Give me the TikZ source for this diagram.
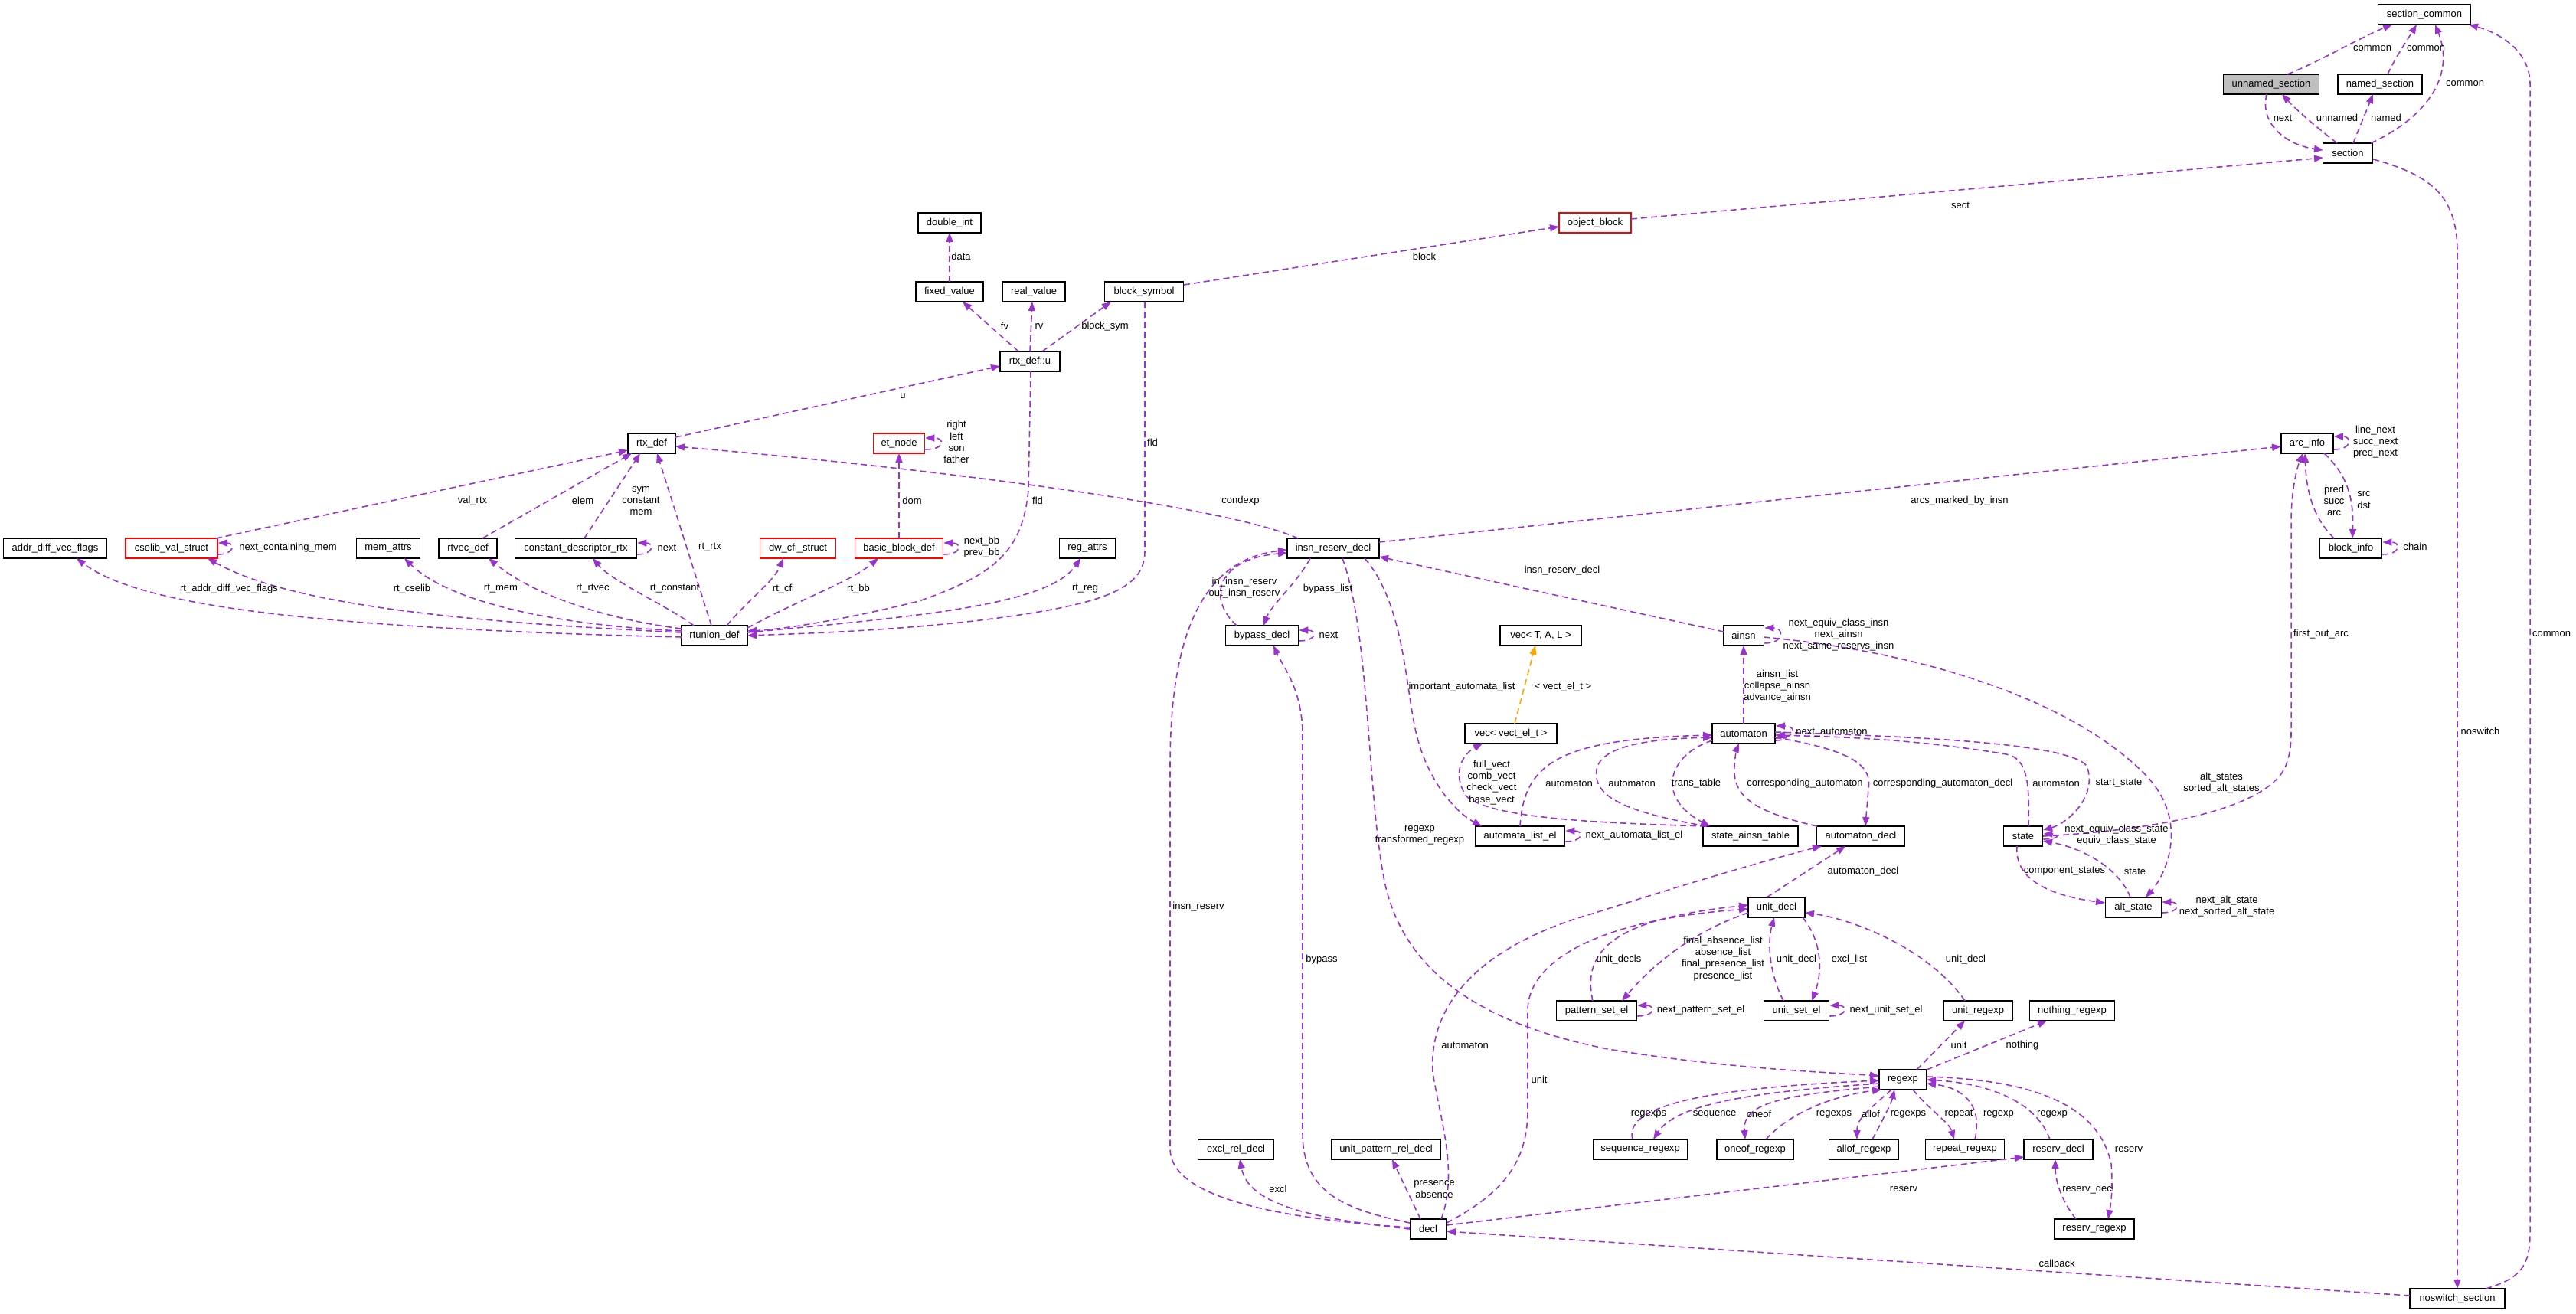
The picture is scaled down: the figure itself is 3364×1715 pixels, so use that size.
\documentclass[tikz,border=0pt]{standalone}
\usepackage{fontspec}
\usetikzlibrary{arrows.meta,calc}
\newfontfamily\lbf{Liberation Sans}
\newcommand\lbfont{\lbf\fontsize{3.7}{4.3}\selectfont}
\definecolor{edgec}{RGB}{154,50,205}
\definecolor{tmplc}{RGB}{255,165,0}
\definecolor{grayfill}{RGB}{191,191,191}
\tikzset{
 box/.style={draw=black, line width=0.45pt, fill=white, inner xsep=0.04cm, inner ysep=0pt, minimum height=0.255cm, font=\lbfont},
 redbox/.style={box, draw=red},
 lbl/.style={inner sep=0pt, font=\lbfont, align=center},
 e/.style={draw=edgec, line width=0.45pt, dash pattern=on 0.08cm off 0.05cm, -{Triangle[length=0.12cm,width=0.09cm]}},
 eo/.style={e, draw=tmplc},
}
\begin{document}
\begin{tikzpicture}[x=0.01cm,y=-0.01cm]
\useasboundingbox (0,0) rectangle (3364,1715);
% ---------------- nodes ----------------
\node[box, minimum width=1.21cm] (seccommon) at (3166,19) {section\_common};
\node[box, fill=grayfill, minimum width=1.25cm] (unnamed) at (2966,110) {unnamed\_section};
\node[box, minimum width=1.10cm] (named) at (3108,110) {named\_section};
\node[box, minimum width=0.65cm] (section) at (3066,200) {section};
\node[redbox, minimum width=0.94cm] (objblock) at (2083,291) {object\_block};
\node[box, minimum width=0.82cm] (doubleint) at (1240,291) {double\_int};
\node[box, minimum width=0.88cm] (fixedv) at (1240,381) {fixed\_value};
\node[box, minimum width=0.82cm] (realv) at (1350,381) {real\_value};
\node[box, minimum width=1.03cm] (blocksym) at (1494,381) {block\_symbol};
\node[box, minimum width=0.78cm] (rtxu) at (1345,472) {rtx\_def::u};
\node[box, minimum width=0.62cm] (rtx) at (851,579) {rtx\_def};
\node[redbox, minimum width=0.67cm] (etnode) at (1174,579) {et\_node};
\node[box, minimum width=0.68cm] (arcinfo) at (3013,579) {arc\_info};
\node[box, minimum width=1.35cm] (addr) at (72,716) {addr\_diff\_vec\_flags};
\node[redbox, minimum width=1.20cm] (cselib) at (224,716) {cselib\_val\_struct};
\node[box, minimum width=0.83cm] (memattrs) at (507,716) {mem\_attrs};
\node[box, minimum width=0.76cm] (rtvec) at (611,716) {rtvec\_def};
\node[box, minimum width=1.59cm] (constdesc) at (752,716) {constant\_descriptor\_rtx};
\node[redbox, minimum width=0.99cm] (dwcfi) at (1042,716) {dw\_cfi\_struct};
\node[redbox, minimum width=1.15cm] (bbdef) at (1174,716) {basic\_block\_def};
\node[box, minimum width=0.73cm] (regattrs) at (1420,716) {reg\_attrs};
\node[box, minimum width=1.20cm] (insnrd) at (1741,716) {insn\_reserv\_decl};
\node[box, minimum width=0.81cm] (blockinfo) at (3070,716) {block\_info};
\node[box, minimum width=0.86cm] (rtunion) at (933,830) {rtunion\_def};
\node[box, minimum width=0.95cm] (bypass) at (1648,830) {bypass\_decl};
\node[box, minimum width=1.06cm] (vecTAL) at (2012,830) {vec< T, A, L >};
\node[box, minimum width=0.53cm] (ainsn) at (2277,830) {ainsn};
\node[box, minimum width=1.20cm] (vecvect) at (1973,958) {vec< vect\_el\_t >};
\node[box, minimum width=0.82cm] (automaton) at (2277,958) {automaton};
\node[box, minimum width=1.17cm] (automlist) at (1985,1092) {automata\_list\_el};
\node[box, minimum width=1.24cm] (sat) at (2286,1092) {state\_ainsn\_table};
\node[box, minimum width=1.15cm] (automdecl) at (2430,1092) {automaton\_decl};
\node[box, minimum width=0.51cm] (state) at (2642,1092) {state};
\node[box, minimum width=0.74cm] (unitdecl) at (2320,1185) {unit\_decl};
\node[box, minimum width=0.73cm] (altstate) at (2786,1185) {alt\_state};
\node[box, minimum width=1.05cm] (pse) at (2085,1320) {pattern\_set\_el};
\node[box, minimum width=0.85cm] (use) at (2346,1320) {unit\_set\_el};
\node[box, minimum width=0.90cm] (unitregexp) at (2583,1320) {unit\_regexp};
\node[box, minimum width=1.11cm] (nothing) at (2706,1320) {nothing\_regexp};
\node[box, minimum width=0.62cm] (regexp) at (2485,1410) {regexp};
\node[box, minimum width=0.99cm] (exclrel) at (1614,1501) {excl\_rel\_decl};
\node[box, minimum width=1.43cm] (uprd) at (1810,1501) {unit\_pattern\_rel\_decl};
\node[box, minimum width=1.23cm] (seqre) at (2142,1501) {sequence\_regexp};
\node[box, minimum width=1.00cm] (oneof) at (2292,1501) {oneof\_regexp};
\node[box, minimum width=0.91cm] (allof) at (2434,1501) {allof\_regexp};
\node[box, minimum width=1.03cm] (repeatre) at (2566,1501) {repeat\_regexp};
\node[box, minimum width=0.90cm] (reservdecl) at (2688,1501) {reserv\_decl};
\node[box, minimum width=0.47cm] (decl) at (1865,1605) {decl};
\node[box, minimum width=1.04cm] (reservre) at (2735,1605) {reserv\_regexp};
\node[box, minimum width=1.24cm] (noswitch) at (3209,1696) {noswitch\_section};
% ---------------- edges: top right ----------------
\draw[e] ($(unnamed)+(21,-13)$) .. controls (3030,80) and (3080,50) .. ($(seccommon)+(-42,13)$);
\draw[e] ($(named)+(10,-13)$) .. controls (3128,75) and (3145,50) .. ($(seccommon)+(-10,13)$);
\draw[e] ($(section)+(30,-13)$) .. controls (3175,150) and (3205,95) .. ($(seccommon)+(14,13)$);
\draw[e] ($(unnamed)+(-6,13)$) .. controls (2950,165) and (2990,190) .. ($(section)+(-32,-4)$);
\draw[e] ($(section)+(-14,-13)$) .. controls (3030,170) and (3000,145) .. ($(unnamed)+(14,13)$);
\draw[e] ($(section)+(7,-13)$) -- ($(named)+(-9,13)$);
\draw[e] ($(objblock)+(47,-5)$) -- ($(section)+(-32,6)$);
\draw[e] ($(section)+(33,8)$) .. controls (3180,230) and (3209,260) .. (3209,330) -- ($(noswitch)+(0,-13)$);
\draw[e] ($(noswitch)+(37,-13)$) .. controls (3290,1670) and (3304,1655) .. (3304,1610) -- (3304,110) .. controls (3304,70) and (3270,45) .. ($(seccommon)+(58,13)$);
\draw[e] ($(noswitch)+(-62,-4)$) -- ($(decl)+(24,3)$);
% ---------------- upper middle ----------------
\draw[e] ($(fixedv)+(0,-13)$) -- ($(doubleint)+(0,13)$);
\draw[e] ($(rtxu)+(-15,-13)$) -- ($(fixedv)+(17,13)$);
\draw[e] ($(rtxu)+(0,-13)$) -- ($(realv)+(-2,13)$);
\draw[e] ($(rtxu)+(16,-13)$) -- ($(blocksym)+(-43,13)$);
\draw[e] ($(blocksym)+(52,-9)$) -- ($(objblock)+(-47,5)$);
\draw[e] ($(rtx)+(31,-8)$) -- ($(rtxu)+(-39,6)$);
\draw[e] ($(rtxu)+(1,13)$) -- (1343,640) .. controls (1335,720) and (1300,750) .. (1200,785) .. controls (1100,810) and (1020,822) .. ($(rtunion)+(43,-6)$);
\draw[e] ($(blocksym)+(1,13)$) -- (1495,720) .. controls (1495,770) and (1440,790) .. (1280,810) .. controls (1150,825) and (1030,828) .. ($(rtunion)+(43,0)$);
% ---------------- rtx area ----------------
\draw[e] ($(etnode.east)+(0,8)$) .. controls +(26,0) and +(26,0) .. ($(etnode.east)+(0,-7)$);
\draw[e] ($(bbdef)+(0,-13)$) -- ($(etnode)+(0,13)$);
\draw[e] ($(bbdef.east)+(0,8)$) .. controls +(24,0) and +(24,0) .. ($(bbdef.east)+(0,-7)$);
\draw[e] ($(insnrd)+(-46,-13)$) .. controls (1600,660) and (1200,610) .. ($(rtx)+(31,4)$);
\draw[e] ($(cselib)+(58,-13)$) -- ($(rtx)+(-31,9)$);
\draw[e] ($(rtvec)+(19,-13)$) -- ($(rtx)+(-26,13)$);
\draw[e] ($(constdesc)+(11,-13)$) -- ($(rtx)+(-15,13)$);
\draw[e] ($(rtunion)+(-4,-13)$) -- ($(rtx)+(7,13)$);
\draw[e] ($(cselib.east)+(0,8)$) .. controls +(22,0) and +(22,0) .. ($(cselib.east)+(0,-7)$);
\draw[e] ($(constdesc.east)+(0,8)$) .. controls +(22,0) and +(22,0) .. ($(constdesc.east)+(0,-7)$);
\draw[e] ($(rtunion)+(-43,2)$) .. controls (400,820) and (180,790) .. ($(addr)+(28,13)$);
\draw[e] ($(rtunion)+(-43,-4)$) .. controls (600,812) and (380,790) .. ($(cselib)+(47,13)$);
\draw[e] ($(rtunion)+(-43,-6)$) .. controls (700,815) and (580,780) .. ($(memattrs)+(21,13)$);
\draw[e] ($(rtunion)+(-43,-9)$) .. controls (800,810) and (700,780) .. ($(rtvec)+(27,13)$);
\draw[e] ($(rtunion)+(-27,-13)$) .. controls (870,790) and (800,760) .. ($(constdesc)+(22,13)$);
\draw[e] ($(rtunion)+(16,-13)$) .. controls (980,780) and (1010,760) .. ($(dwcfi)+(-19,13)$);
\draw[e] ($(rtunion)+(43,-10)$) .. controls (1050,780) and (1110,760) .. ($(bbdef)+(-27,13)$);
\draw[e] ($(rtunion)+(43,-4)$) .. controls (1200,805) and (1370,790) .. ($(regattrs)+(-9,13)$);
% ---------------- insn_reserv_decl area ----------------
\draw[e] ($(insnrd)+(60,-8)$) -- ($(arcinfo)+(-34,4)$);
\draw[e] ($(bypass)+(-33,-13)$) .. controls (1575,780) and (1590,730) .. ($(insnrd)+(-60,6)$);
\draw[e] ($(insnrd)+(-30,13)$) .. controls (1695,760) and (1660,790) .. ($(bypass)+(2,-13)$);
\draw[e] ($(bypass.east)+(0,7)$) .. controls +(24,0) and +(24,0) .. ($(bypass.east)+(0,-7)$);
\draw[e] ($(ainsn)+(-26,-5)$) -- ($(insnrd)+(60,11)$);
\draw[e] ($(insnrd)+(41,13)$) .. controls (1835,790) and (1835,900) .. (1850,960) .. controls (1865,1020) and (1900,1060) .. ($(automlist)+(-50,-13)$);
\draw[e] ($(insnrd)+(12,13)$) .. controls (1790,830) and (1785,1050) .. (1810,1160) .. controls (1840,1280) and (1950,1340) .. (2100,1370) .. controls (2250,1395) and (2380,1400) .. ($(regexp)+(-31,-5)$);
\draw[e] ($(decl)+(-24,-2)$) .. controls (1650,1590) and (1528,1560) .. (1528,1500) -- (1528,1000) .. controls (1528,810) and (1580,730) .. ($(insnrd)+(-60,2)$);
\draw[e] ($(decl)+(-24,-8)$) .. controls (1760,1580) and (1701,1560) .. (1701,1480) -- (1701,960) .. controls (1701,900) and (1675,870) .. ($(bypass)+(15,13)$);
% ---------------- automaton area ----------------
\draw[eo] ($(vecvect)+(5,-13)$) -- ($(vecTAL)+(-7,13)$);
\draw[e] ($(sat)+(-58,-13)$) .. controls (2100,1075) and (1950,1070) .. (1915,1040) .. controls (1895,1010) and (1910,985) .. ($(vecvect)+(-37,13)$);
\draw[e] ($(automlist)+(0,-13)$) .. controls (1990,1000) and (2030,965) .. ($(automaton)+(-41,2)$);
\draw[e] ($(automlist.east)+(0,7)$) .. controls +(24,0) and +(24,0) .. ($(automlist.east)+(0,-7)$);
\draw[e] ($(sat)+(-57,-13)$) .. controls (2120,1060) and (2080,1040) .. (2085,1005) .. controls (2090,975) and (2150,965) .. ($(automaton)+(-41,5)$);
\draw[e] ($(automaton)+(-41,9)$) .. controls (2180,985) and (2160,1040) .. ($(sat)+(-53,-13)$);
\draw[e] ($(automaton.east)+(0,6)$) .. controls +(28,0) and +(28,0) .. ($(automaton.east)+(0,-10)$);
\draw[e] ($(automaton.east)+(0,9)$) .. controls +(16,0) and +(16,0) .. ($(automaton.east)+(0,2)$);
\draw[e] ($(automaton)+(0,-13)$) -- ($(ainsn)+(0,13)$);
\draw[e] ($(ainsn.east)+(0,10)$) .. controls +(26,0) and +(26,0) .. ($(ainsn.east)+(0,-10)$);
\draw[e] ($(automdecl)+(-57,-13)$) .. controls (2290,1060) and (2262,1040) .. (2265,1000) .. controls (2266,985) and (2268,978) .. ($(automaton)+(-6,13)$);
\draw[e] ($(automaton)+(41,5)$) .. controls (2420,980) and (2445,1000) .. (2440,1030) .. controls (2438,1055) and (2437,1065) .. ($(automdecl)+(6,-13)$);
\draw[e] ($(state)+(7,-13)$) .. controls (2650,1030) and (2650,990) .. (2620,985) .. controls (2500,965) and (2400,962) .. ($(automaton)+(41,2)$);
\draw[e] ($(automaton)+(41,-2)$) .. controls (2500,962) and (2700,970) .. (2725,1000) .. controls (2740,1040) and (2700,1075) .. ($(state)+(26,-8)$);
\draw[e] ($(state.east)+(0,4)$) .. controls +(22,0) and +(22,0) .. ($(state.east)+(0,-3)$);
\draw[e] ($(altstate)+(-4,-13)$) .. controls (2770,1140) and (2730,1110) .. ($(state)+(26,6)$);
\draw[e] ($(state)+(-8,13)$) .. controls (2630,1150) and (2680,1170) .. ($(altstate)+(-37,-6)$);
\draw[e] ($(ainsn)+(26,2)$) .. controls (2500,850) and (2700,910) .. (2800,1010) .. controls (2860,1070) and (2830,1140) .. ($(altstate)+(16,-13)$);
\draw[e] ($(state)+(26,0)$) .. controls (2800,1085) and (2960,1060) .. (2985,1000) .. controls (2992,980) and (2992,970) .. (2992,950) -- (2992,680) .. controls (2992,640) and (3000,610) .. ($(arcinfo)+(-6,13)$);
\draw[e] ($(altstate.east)+(0,7)$) .. controls +(24,0) and +(24,0) .. ($(altstate.east)+(0,-7)$);
\draw[e] ($(blockinfo)+(-22,-13)$) .. controls (3025,680) and (3012,650) .. ($(arcinfo)+(-3,13)$);
\draw[e] ($(arcinfo)+(22,13)$) .. controls (3065,620) and (3074,650) .. ($(blockinfo)+(2,-13)$);
\draw[e] ($(arcinfo.east)+(0,8)$) .. controls +(24,0) and +(24,0) .. ($(arcinfo.east)+(0,-9)$);
\draw[e] ($(blockinfo.east)+(0,8)$) .. controls +(24,0) and +(24,0) .. ($(blockinfo.east)+(0,-8)$);
% ---------------- lower area ----------------
\draw[e] ($(unitdecl)+(-13,-13)$) -- ($(automdecl)+(-20,13)$);
\draw[e] ($(decl)+(17,-13)$) .. controls (1905,1530) and (1880,1460) .. (1871,1400) .. controls (1865,1300) and (1950,1230) .. (2080,1193) .. controls (2200,1155) and (2300,1125) .. ($(automdecl)+(-51,13)$);
\draw[e] ($(decl)+(24,-8)$) .. controls (1960,1560) and (1995,1520) .. (1995,1450) -- (1995,1320) .. controls (1995,1250) and (2100,1200) .. ($(unitdecl)+(-37,2)$);
\draw[e] ($(pse)+(-5,-13)$) .. controls (2065,1240) and (2110,1200) .. ($(unitdecl)+(-37,-3)$);
\draw[e] ($(unitdecl)+(-37,7)$) .. controls (2200,1220) and (2150,1270) .. ($(pse)+(33,-13)$);
\draw[e] ($(pse.east)+(0,7)$) .. controls +(24,0) and +(24,0) .. ($(pse.east)+(0,-7)$);
\draw[e] ($(use)+(-17,-13)$) .. controls (2310,1270) and (2308,1230) .. ($(unitdecl)+(-3,13)$);
\draw[e] ($(unitdecl)+(34,13)$) .. controls (2380,1230) and (2380,1270) .. ($(use)+(20,-13)$);
\draw[e] ($(use.east)+(0,7)$) .. controls +(24,0) and +(24,0) .. ($(use.east)+(0,-7)$);
\draw[e] ($(unitregexp)+(-17,-13)$) .. controls (2520,1240) and (2420,1200) .. ($(unitdecl)+(37,7)$);
\draw[e] ($(regexp)+(18,-13)$) -- ($(unitregexp)+(-17,13)$);
\draw[e] ($(regexp)+(31,-13)$) -- ($(nothing)+(-33,13)$);
\draw[e] ($(seqre)+(-10,-13)$) .. controls (2118,1440) and (2250,1420) .. ($(regexp)+(-31,1)$);
\draw[e] ($(regexp)+(-31,5)$) .. controls (2300,1425) and (2190,1440) .. ($(seqre)+(17,-13)$);
\draw[e] ($(regexp)+(-31,9)$) .. controls (2330,1430) and (2275,1440) .. ($(oneof)+(-13,-13)$);
\draw[e] ($(oneof)+(14,-13)$) .. controls (2340,1450) and (2400,1430) .. ($(regexp)+(-28,13)$);
\draw[e] ($(regexp)+(-15,13)$) .. controls (2440,1450) and (2425,1460) .. ($(allof)+(-9,-13)$);
\draw[e] ($(allof)+(11,-13)$) .. controls (2460,1460) and (2470,1440) .. ($(regexp)+(-11,13)$);
\draw[e] ($(regexp)+(13,13)$) .. controls (2520,1450) and (2545,1465) .. ($(repeatre)+(-14,-13)$);
\draw[e] ($(repeatre)+(13,-13)$) .. controls (2590,1440) and (2560,1420) .. ($(regexp)+(31,5)$);
\draw[e] ($(reservdecl)+(-11,-13)$) .. controls (2660,1440) and (2600,1415) .. ($(regexp)+(31,0)$);
\draw[e] ($(regexp)+(31,-4)$) .. controls (2650,1410) and (2740,1440) .. (2757,1520) .. controls (2760,1560) and (2755,1580) .. ($(reservre)+(18,-13)$);
\draw[e] ($(reservre)+(-24,-13)$) .. controls (2690,1565) and (2684,1540) .. ($(reservdecl)+(-4,13)$);
\draw[e] ($(decl)+(24,-5)$) -- ($(reservdecl)+(-45,10)$);
\draw[e] ($(decl)+(-24,0)$) .. controls (1700,1590) and (1630,1570) .. ($(exclrel)+(5,13)$);
\draw[e] ($(decl)+(-10,-13)$) -- ($(uprd)+(8,13)$);
% ---------------- labels ----------------
\node[lbl] (l1) at (3098,63) {common};
\node[lbl] (l2) at (3168,63) {common};
\node[lbl] (l3) at (3219,109) {common};
\node[lbl] (l4) at (2981,154) {next};
\node[lbl] (l5) at (3052,154) {unnamed};
\node[lbl] (l6) at (3116,154) {named};
\node[lbl] (l7) at (2560,268) {sect};
\node[lbl] (l8) at (3239,955) {noswitch};
\node[lbl] (l9) at (3332,828) {common};
\node[lbl] (l10) at (2686,1650) {callback};
\node[lbl] (l11) at (1255,335) {data};
\node[lbl] (l12) at (1312,426) {fv};
\node[lbl] (l13) at (1357,426) {rv};
\node[lbl] (l14) at (1443,426) {block\_sym};
\node[lbl] (l15) at (1860,335) {block};
\node[lbl] (l16) at (1179,517) {u};
\node[lbl] (l17) at (1355,654) {fld};
\node[lbl] (l18) at (1505,578) {fld};
\node[lbl] (l19) at (1249,577) {right\\left\\son\\father};
\node[lbl] (l20) at (1191,654) {dom};
\node[lbl] (l21) at (1282,715) {next\_bb\\prev\_bb};
\node[lbl] (l22) at (1620,654) {condexp};
\node[lbl] (l23) at (617,654) {val\_rtx};
\node[lbl] (l24) at (761,654) {elem};
\node[lbl] (l25) at (837,654) {sym\\constant\\mem};
\node[lbl] (l26) at (927,715) {rt\_rtx};
\node[lbl] (l27) at (376,715) {next\_containing\_mem};
\node[lbl] (l28) at (871,715) {next};
\node[lbl] (l29) at (299,769) {rt\_addr\_diff\_vec\_flags};
\node[lbl] (l30) at (538,769) {rt\_cselib};
\node[lbl] (l31) at (654,769) {rt\_mem};
\node[lbl] (l32) at (774,769) {rt\_rtvec};
\node[lbl] (l33) at (881,769) {rt\_constant};
\node[lbl] (l34) at (1023,769) {rt\_cfi};
\node[lbl] (l35) at (1121,769) {rt\_bb};
\node[lbl] (l36) at (1417,769) {rt\_reg};
\node[lbl] (l37) at (2559,654) {arcs\_marked\_by\_insn};
\node[lbl] (l38) at (1625,768) {in\_insn\_reserv\\out\_insn\_reserv};
\node[lbl] (l39) at (1734,769) {bypass\_list};
\node[lbl] (l40) at (1735,829) {next};
\node[lbl] (l41) at (2040,745) {insn\_reserv\_decl};
\node[lbl] (l42) at (1909,897) {important\_automata\_list};
\node[lbl] (l43) at (1854,1091) {regexp\\transformed\_regexp};
\node[lbl] (l44) at (1565,1184) {insn\_reserv};
\node[lbl] (l45) at (1726,1253) {bypass};
\node[lbl] (l46) at (2041,897) {< vect\_el\_t >};
\node[lbl] (l47) at (1948,1022) {full\_vect\\comb\_vect\\check\_vect\\base\_vect};
\node[lbl] (l48) at (2049,1023) {automaton};
\node[lbl] (l49) at (2134,1091) {next\_automata\_list\_el};
\node[lbl] (l50) at (2131,1023) {automaton};
\node[lbl] (l51) at (2215,1023) {trans\_table};
\node[lbl] (l52) at (2392,957) {next\_automaton};
\node[lbl] (l53) at (2321,896) {ainsn\_list\\collapse\_ainsn\\advance\_ainsn};
\node[lbl] (l54) at (2401,829) {next\_equiv\_class\_insn\\next\_ainsn\\next\_same\_reservs\_insn};
\node[lbl] (l55) at (2357,1023) {corresponding\_automaton};
\node[lbl] (l56) at (2537,1023) {corresponding\_automaton\_decl};
\node[lbl] (l57) at (2685,1023) {automaton};
\node[lbl] (l58) at (2767,1023) {start\_state};
\node[lbl] (l59) at (2764,1091) {next\_equiv\_class\_state\\equiv\_class\_state};
\node[lbl] (l60) at (2788,1138) {state};
\node[lbl] (l61) at (2696,1138) {component\_states};
\node[lbl] (l62) at (2901,1023) {alt\_states\\sorted\_alt\_states};
\node[lbl] (l63) at (3031,828) {first\_out\_arc};
\node[lbl] (l64) at (2908,1184) {next\_alt\_state\\next\_sorted\_alt\_state};
\node[lbl] (l65) at (3048,654) {pred\\succ\\arc};
\node[lbl] (l66) at (3087,653) {src\\dst};
\node[lbl] (l67) at (3102,577) {line\_next\\succ\_next\\pred\_next};
\node[lbl] (l68) at (3154,714) {chain};
\node[lbl] (l69) at (2433,1138) {automaton\_decl};
\node[lbl] (l70) at (1913,1365) {automaton};
\node[lbl] (l71) at (2010,1410) {unit};
\node[lbl] (l72) at (2114,1253) {unit\_decls};
\node[lbl] (l73) at (2250,1252) {final\_absence\_list\\absence\_list\\final\_presence\_list\\presence\_list};
\node[lbl] (l74) at (2221,1319) {next\_pattern\_set\_el};
\node[lbl] (l75) at (2346,1253) {unit\_decl};
\node[lbl] (l76) at (2415,1253) {excl\_list};
\node[lbl] (l77) at (2463,1319) {next\_unit\_set\_el};
\node[lbl] (l78) at (2567,1253) {unit\_decl};
\node[lbl] (l79) at (2558,1365) {unit};
\node[lbl] (l80) at (2641,1365) {nothing};
\node[lbl] (l81) at (2153,1455) {regexps};
\node[lbl] (l82) at (2239,1455) {sequence};
\node[lbl] (l83) at (2297,1455) {oneof};
\node[lbl] (l84) at (2395,1455) {regexps};
\node[lbl] (l85) at (2443,1455) {allof};
\node[lbl] (l86) at (2492,1455) {regexps};
\node[lbl] (l87) at (2558,1455) {repeat};
\node[lbl] (l88) at (2610,1455) {regexp};
\node[lbl] (l89) at (2680,1455) {regexp};
\node[lbl] (l90) at (2780,1501) {reserv};
\node[lbl] (l91) at (2727,1553) {reserv\_decl};
\node[lbl] (l92) at (2486,1553) {reserv};
\node[lbl] (l93) at (1669,1553) {excl};
\node[lbl] (l94) at (1873,1553) {presence\\absence};
\end{tikzpicture}
\end{document}
